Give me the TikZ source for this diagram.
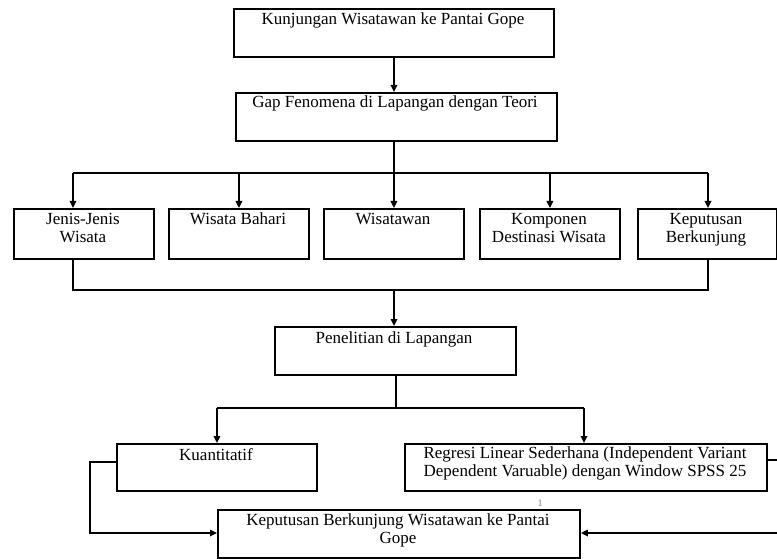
\documentclass[tikz,border=0pt]{standalone}
\usepackage{fontspec}
\setmainfont{Liberation Serif}
\usetikzlibrary{arrows.meta}
\newcommand\txtsize{\fontsize{17}{18}\selectfont}
\begin{document}
\begin{tikzpicture}[x=1pt,y=-1pt,
  box/.style={draw, line width=1.9, inner sep=0, anchor=north west},
  txt/.style={anchor=base, inner sep=0, font=\txtsize},
  conn/.style={line width=1.6},
  arr/.style={conn, -{Triangle[length=7,width=6.5]}}]
\clip (0,0) rectangle (777,559);
\fill[white] (0,0) rectangle (777,559);
% boxes
\node[box, minimum width=320, minimum height=48] (b1) at (233,8) {};
\node[box, minimum width=321, minimum height=48] (b2) at (235,92) {};
\node[box, minimum width=140, minimum height=50] (r1) at (13,208) {};
\node[box, minimum width=140, minimum height=50] (r2) at (168,208) {};
\node[box, minimum width=140, minimum height=50] (r3) at (323,208) {};
\node[box, minimum width=140, minimum height=50] (r4) at (479,208) {};
\node[box, minimum width=139, minimum height=50] (r5) at (637,208) {};
\node[box, minimum width=241, minimum height=48] (pen) at (274,326) {};
\node[box, minimum width=200, minimum height=47] (kua) at (116,443) {};
\node[box, minimum width=362, minimum height=47] (reg) at (404,443) {};
\node[box, minimum width=362, minimum height=48] (fin) at (217,509) {};
% texts
\node[txt] (t1) at (393,25) {Kunjungan Wisatawan ke Pantai Gope};
\node[txt] (t2) at (395,108) {Gap Fenomena di Lapangan dengan Teori};
\node[txt] (t3a) at (83,225) {Jenis-Jenis};
\node[txt] (t3b) at (83,243) {Wisata};
\node[txt] (t4) at (238,225) {Wisata Bahari};
\node[txt] (t5) at (393,225) {Wisatawan};
\node[txt] (t6a) at (549,225) {Komponen};
\node[txt] (t6b) at (549,243) {Destinasi Wisata};
\node[txt] (t7a) at (706,225) {Keputusan};
\node[txt] (t7b) at (706,243) {Berkunjung};
\node[txt] (t8) at (394,343) {Penelitian di Lapangan};
\node[txt] (t9) at (216,460) {Kuantitatif};
\node[txt] (t10a) at (585,458) {Regresi Linear Sederhana (Independent Variant};
\node[txt] (t10b) at (585,476) {Dependent Varuable) dengan Window SPSS 25};
\node[txt] (t11a) at (398,525) {Keputusan Berkunjung Wisatawan ke Pantai};
\node[txt] (t11b) at (398,543) {Gope};
\node[anchor=base, inner sep=0, font=\fontsize{10}{11}\selectfont, text=gray] (pg) at (540,506) {1};
% junction coordinates
\coordinate (h1) at (394,173);
\coordinate (jx) at (73,0);
\coordinate (kx) at (708,0);
\coordinate (h2) at (394,290);
\coordinate (h3) at (396,408);
\coordinate (lx) at (90,0);
\coordinate (rx) at (800,0);
\coordinate (by) at (0,533);
% connectors
\draw[arr] (b1.south -| h1) -- (b2.north -| h1);
\draw[conn] (b2.south -| h1) -- (h1);
\draw[conn] (jx |- h1) -- (kx |- h1);
\draw[arr] (jx |- h1) -- (jx |- r1.north);
\draw[arr] (r2.north |- h1) -- (r2.north);
\draw[arr] (r3.north |- h1) -- (r3.north);
\draw[arr] (r4.north |- h1) -- (r4.north);
\draw[arr] (kx |- h1) -- (kx |- r5.north);
\draw[conn] (jx |- r1.south) -- (jx |- h2) -- (kx |- h2) -- (kx |- r5.south);
\draw[arr] (h2) -- (h2 |- pen.north);
\draw[conn] (pen.south -| h3) -- (h3);
\draw[conn] (kua.north |- h3) -- (584,408);
\draw[arr] (kua.north |- h3) -- (kua.north);
\draw[arr] (584,408) -- (584,443);
\draw[arr] (kua.west |- 0,462) -- (lx |- 0,462) -- (lx |- by) -- (fin.west |- by);
\draw[arr] (reg.east |- 0,460) -- (rx |- 0,460) -- (rx |- by) -- (fin.east |- by);
\end{tikzpicture}
\end{document}
